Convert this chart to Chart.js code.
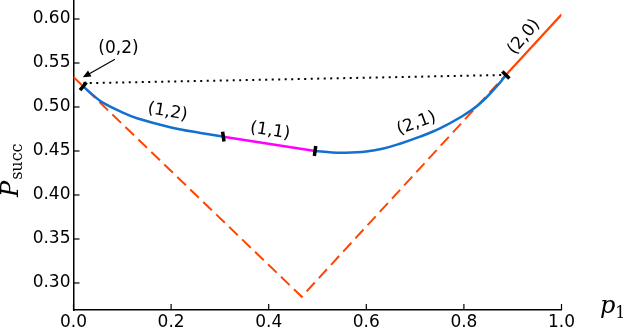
<!DOCTYPE html>
<html>
<head>
<meta charset="utf-8">
<script src="https://cdn.jsdelivr.net/npm/chart.js"></script>
<style>
  body { margin: 0; background: #fff; }
</style>
</head>
<body>
<canvas id="myChart" width="623" height="327"></canvas>
<script>
// blue curve, left part (1,2)
var blue1X = [0.02, 0.04, 0.06, 0.10, 0.13, 0.20, 0.26, 0.307]
var blue1Y = [0.5235, 0.5135, 0.5050, 0.4940, 0.4872, 0.4768, 0.4705, 0.4663]
// magenta part (1,1)
var magX = [0.307, 0.495]
var magY = [0.4663, 0.4500]
// blue curve, right part (2,1)
var blue2X = [0.495, 0.53, 0.555, 0.60, 0.635, 0.669, 0.71, 0.751, 0.792, 0.833, 0.874, 0.886]
var blue2Y = [0.4500, 0.4483, 0.4480, 0.4495, 0.4528, 0.4583, 0.4663, 0.4758, 0.4880, 0.5040, 0.5278, 0.5364]
// red dashed V
var redDashX = [0.0, 0.4676, 0.886]
var redDashY = [0.534, 0.2844, 0.5365]
// red solid (2,0)
var redX = [0.886, 1.0]
var redY = [0.5365, 0.605]
// dotted chord
var dotX = [0.02, 0.886]
var dotY = [0.527, 0.5364]
// switch points
var markX = [0.02, 0.307, 0.495, 0.886]
var markY = [0.5235, 0.4663, 0.4500, 0.5364]
var markRot = [-50, 82, 98, 45]

var xTicks = [0.0, 0.2, 0.4, 0.6, 0.8, 1.0]
var yTicks = [0.30, 0.35, 0.40, 0.45, 0.50, 0.55, 0.60]

var labels = ["(0,2)", "(1,2)", "(1,1)", "(2,1)", "(2,0)"]
var labelX = [0.0922, 0.1926, 0.4027, 0.7029, 0.9232]
var labelY = [0.5659, 0.4943, 0.4727, 0.4813, 0.5795]
var labelRot = [0, 10, 9, -20, -50]
// arrow for (0,2): tail, head
var arrowX = [0.085, 0.019]
var arrowY = [0.5542, 0.5337]

function pts(xs, ys) {
  return xs.map(function(x, i) { return {x: x, y: ys[i]} })
}

function drawAnnot(chart) {
  var c = chart.ctx
  var xs = chart.scales.x, ys = chart.scales.y
  var a = chart.chartArea
  c.save()
  // inward ticks
  c.strokeStyle = '#000'
  c.lineWidth = 1.2
  xTicks.forEach(function(v) {
    var px = xs.getPixelForValue(v)
    c.beginPath(); c.moveTo(px, a.bottom); c.lineTo(px, a.bottom - 6); c.stroke()
  })
  yTicks.forEach(function(v) {
    var py = ys.getPixelForValue(v)
    c.beginPath(); c.moveTo(a.left, py); c.lineTo(a.left + 6, py); c.stroke()
  })

  // region labels
  c.fillStyle = '#000'
  c.font = '17px "DejaVu Sans"'
  c.textAlign = 'center'
  c.textBaseline = 'middle'
  for (var i = 0; i < labels.length; i++) {
    c.save()
    c.translate(xs.getPixelForValue(labelX[i]), ys.getPixelForValue(labelY[i]))
    c.rotate(labelRot[i] * Math.PI / 180)
    c.fillText(labels[i], 0, 0)
    c.restore()
  }

  // arrow
  var x0 = xs.getPixelForValue(arrowX[0]), y0 = ys.getPixelForValue(arrowY[0])
  var x1 = xs.getPixelForValue(arrowX[1]), y1 = ys.getPixelForValue(arrowY[1])
  var ang = Math.atan2(y1 - y0, x1 - x0)
  c.lineWidth = 1.2
  c.beginPath(); c.moveTo(x0, y0); c.lineTo(x1 - 5 * Math.cos(ang), y1 - 5 * Math.sin(ang)); c.stroke()
  c.beginPath()
  c.moveTo(x1, y1)
  c.lineTo(x1 - 8 * Math.cos(ang) + 3.5 * Math.sin(ang), y1 - 8 * Math.sin(ang) - 3.5 * Math.cos(ang))
  c.lineTo(x1 - 8 * Math.cos(ang) - 3.5 * Math.sin(ang), y1 - 8 * Math.sin(ang) + 3.5 * Math.cos(ang))
  c.closePath()
  c.fill()

  // axis titles
  c.textAlign = 'left'
  c.textBaseline = 'alphabetic'
  c.save()
  c.translate(18, 197)
  c.rotate(-Math.PI / 2)
  c.font = 'italic 24px "DejaVu Serif"'
  c.fillText('P', 0, 0)
  var w = c.measureText('P').width
  c.font = '16px "DejaVu Serif"'
  c.fillText('succ', w + 1, 4)
  c.restore()

  c.font = 'italic 24px "DejaVu Serif"'
  c.fillText('p', 600, 313)
  var wp = c.measureText('p').width
  c.font = '16px "DejaVu Serif"'
  c.fillText('1', 600 + wp, 318)
  c.restore()
}

var ctx = document.getElementById('myChart')

var myChart = new Chart(ctx, {
  type: 'line',
  data: {
    datasets: [
      {
        label: 'switch points',
        data: pts(markX, markY),
        showLine: false,
        pointStyle: 'line',
        pointRadius: 5,
        pointBorderWidth: 3.5,
        pointBorderColor: '#000',
        pointRotation: markRot,
        order: 0
      },
      {
        label: '(1,2)',
        data: pts(blue1X, blue1Y),
        borderColor: '#1270d0',
        borderWidth: 2.5,
        pointRadius: 0,
        tension: 0.4,
        order: 1
      },
      {
        label: '(1,1)',
        data: pts(magX, magY),
        borderColor: '#ff00ff',
        borderWidth: 2.5,
        pointRadius: 0,
        order: 1
      },
      {
        label: '(2,1)',
        data: pts(blue2X, blue2Y),
        borderColor: '#1270d0',
        borderWidth: 2.5,
        pointRadius: 0,
        tension: 0.4,
        order: 1
      },
      {
        label: '(2,0)',
        data: pts(redX, redY),
        borderColor: '#ff4500',
        borderWidth: 2.2,
        pointRadius: 0,
        order: 2
      },
      {
        label: 'bound',
        data: pts(redDashX, redDashY),
        borderColor: '#ff4500',
        borderWidth: 2,
        borderDash: [12, 6],
        pointRadius: 0,
        order: 3
      },
      {
        label: 'chord',
        data: pts(dotX, dotY),
        borderColor: '#000',
        borderWidth: 2,
        borderDash: [2, 4.5],
        pointRadius: 0,
        order: 3
      }
    ]
  },
  options: {
    responsive: false,
    animation: false,
    devicePixelRatio: 1,
    layout: { autoPadding: false, padding: { left: 0, top: 0, right: 61.5, bottom: 0 } },
    plugins: { legend: { display: false }, tooltip: { enabled: false } },
    scales: {
      x: {
        type: 'linear',
        min: 0,
        max: 1,
        grid: { display: false, drawTicks: false },
        border: { display: true, color: '#000', width: 1.5 },
        afterFit: function(s) { s.height = 17; s.paddingLeft = 0; s.paddingRight = 0 },
        afterBuildTicks: function(s) { s.ticks = xTicks.map(function(v) { return {value: v} }) },
        ticks: {
          padding: 2,
          color: '#000',
          font: { family: 'DejaVu Sans', size: 17 },
          maxRotation: 0,
          callback: function(v) { return v.toFixed(1) }
        }
      },
      y: {
        type: 'linear',
        min: 0.2693,
        max: 0.6216,
        grid: { display: false, drawTicks: false },
        border: { display: true, color: '#000', width: 1.5 },
        afterFit: function(s) { s.width = 73.5; s.paddingTop = 0; s.paddingBottom = 0 },
        afterBuildTicks: function(s) { s.ticks = yTicks.map(function(v) { return {value: v} }) },
        ticks: {
          padding: 3,
          color: '#000',
          font: { family: 'DejaVu Sans', size: 17 },
          callback: function(v) { return v.toFixed(2) }
        }
      }
    }
  },
  plugins: [{ id: 'annot', afterDraw: drawAnnot }]
})
</script>
</body>
</html>
